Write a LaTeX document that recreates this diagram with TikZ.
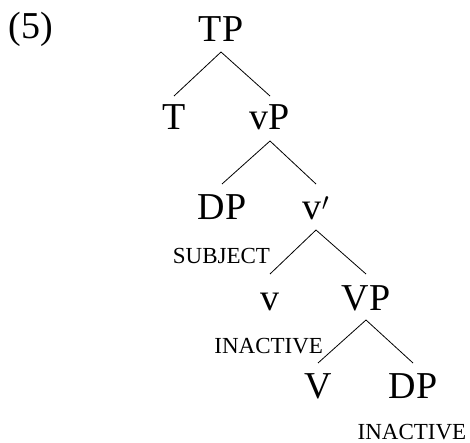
\documentclass[tikz,border=0pt]{standalone}
\usepackage{fontspec}
\setmainfont{Liberation Serif}
\begin{document}
\begin{tikzpicture}[x=1pt,y=-1pt,
  cat/.style={inner sep=0pt, outer sep=0pt, font=\fontsize{38}{40}\selectfont, text height=25pt, text depth=0pt, anchor=south},
  lab/.style={inner sep=0pt, outer sep=0pt, font=\fontsize{23}{25}\selectfont, anchor=base},
  br/.style={line width=0.8pt}]
\useasboundingbox (0,0) rectangle (470,443);
\node[lab, font=\fontsize{38}{40}\selectfont, anchor=base west] (ex) at (9,39) {(5)};
\node[cat] (TP) at (221,42) {TP};
\node[cat] (T) at (174,130) {T};
\node[cat] (vP) at (270,130) {vP};
\node[cat] (DP1) at (222,220) {DP};
\node[cat] (vbar) at (316,220) {v$'$};
\node[cat] (v) at (270,310) {v};
\node[cat] (VP) at (366,310) {VP};
\node[cat] (V) at (318,398) {V};
\node[cat] (DP2) at (413,398) {DP};
\node[lab, anchor=base east] (subj) at (270,263) {SUBJECT};
\node[lab, anchor=base east] (inact1) at (323,353) {INACTIVE};
\node[lab] (inact2) at (412,439) {INACTIVE};
\draw[br] ([yshift=-10pt]TP.south) -- ([yshift=9pt]T.north);
\draw[br] ([yshift=-10pt]TP.south) -- ([yshift=9pt]vP.north);
\draw[br] ([yshift=-11pt]vP.south) -- ([yshift=11pt]DP1.north);
\draw[br] ([yshift=-11pt]vP.south) -- ([yshift=11pt]vbar.north);
\draw[br] ([yshift=-10pt]vbar.south) -- ([yshift=11pt]v.north);
\draw[br] ([yshift=-10pt]vbar.south) -- ([yshift=11pt]VP.north);
\draw[br] ([yshift=-10pt]VP.south) -- ([yshift=10pt]V.north);
\draw[br] ([yshift=-10pt]VP.south) -- ([yshift=10pt]DP2.north);
\end{tikzpicture}
\end{document}
